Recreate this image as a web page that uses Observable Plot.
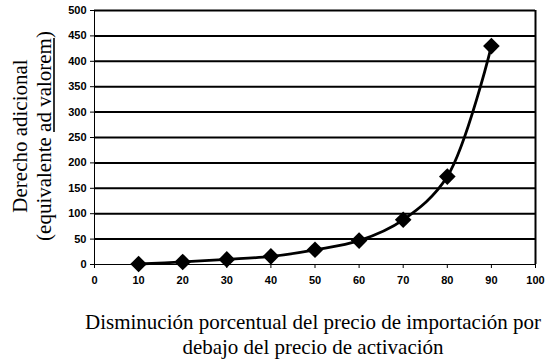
<!DOCTYPE html>
<html>
<head>
<meta charset="utf-8">
<script src="https://cdn.jsdelivr.net/npm/d3@7"></script>
<script src="https://cdn.jsdelivr.net/npm/@observablehq/plot@0.6"></script>
<style>
  html, body { margin: 0; padding: 0; background: #fff; }
  #chart svg { display: block; }
</style>
</head>
<body>
<div id="chart"></div>
<script>
const decreasePct = [10, 20, 30, 40, 50, 60, 70, 80, 90];
const extraDuty = [1, 5, 10, 16, 29, 47, 88, 173, 430];
const xTicks = [0, 10, 20, 30, 40, 50, 60, 70, 80, 90, 100];
const yTicks = [0, 50, 100, 150, 200, 250, 300, 350, 400, 450, 500];
const xTitle = ["Disminución porcentual del precio de importación por", "debajo del precio de activación"];
const yTitle = ["Derecho adicional", "(equivalente ", "ad valorem", ")"];

const data = decreasePct.map((x, i) => ({x, y: extraDuty[i]}));
const tickFont = "bold 11px 'Liberation Sans', Arial, sans-serif";

const plot = Plot.plot({
  width: 550,
  height: 362,
  marginLeft: 94,
  marginRight: 15,
  marginTop: 10,
  marginBottom: 98,
  style: {background: "#fff", color: "#000", overflow: "visible"},
  x: {domain: [0, 100], ticks: xTicks, label: null},
  y: {domain: [0, 500], ticks: yTicks, label: null},
  marks: [
    Plot.ruleY(yTicks.filter(d => d > 0), {stroke: "#000", strokeWidth: 2}),
    Plot.ruleX([100], {y1: 0, y2: 500, stroke: "#000", strokeWidth: 2}),
    Plot.ruleX([0], {y1: 0, y2: 500, stroke: "#000", strokeWidth: 1}),
    Plot.ruleY([0], {stroke: "#000", strokeWidth: 1}),
    Plot.axisX({ticks: xTicks, tickSize: 4, tickPadding: 8, label: null, fontSize: 11}),
    Plot.axisY({ticks: yTicks, tickSize: 4, tickPadding: 4, label: null, fontSize: 11}),
    Plot.line(data, {x: "x", y: "y", curve: "catmull-rom", stroke: "#000", strokeWidth: 2.8}),
    Plot.dot(data, {x: "x", y: "y", symbol: "diamond2", r: 7.5, fill: "#000", stroke: "none"})
  ]
});

document.getElementById("chart").appendChild(plot);

const svg = d3.select(plot);
svg.selectAll("g[aria-label='x-axis tick label'] text, g[aria-label='y-axis tick label'] text")
  .style("font", tickFont);

const serif = "'Liberation Serif', 'Times New Roman', serif";
const titleSize = 21;

// x title
const xt = svg.append("text")
  .attr("text-anchor", "middle")
  .attr("font-family", serif)
  .attr("font-size", titleSize)
  .attr("fill", "#000");
xt.append("tspan").attr("x", 313).attr("y", 329).text(xTitle[0]);
xt.append("tspan").attr("x", 313).attr("y", 354).text(xTitle[1]);

// y title (rotated); widths measured with a canvas using the same font
const ctx = document.createElement("canvas").getContext("2d");
ctx.font = `${titleSize}px ${serif}`;
const pieces = yTitle.slice(1);
const widths = pieces.map(t => ctx.measureText(t).width);
const total = widths.reduce((a, b) => a + b, 0);

const yg = svg.append("g")
  .attr("font-family", serif)
  .attr("font-size", titleSize)
  .attr("fill", "#000")
  .attr("transform", "translate(0,136) rotate(-90)");
yg.append("text").attr("text-anchor", "middle").attr("x", 0).attr("y", 27).text(yTitle[0]);

let cx = -total / 2;
const starts = [];
pieces.forEach((t, i) => {
  starts.push(cx);
  yg.append("text").attr("text-anchor", "start").attr("x", cx).attr("y", 51)
    .style("white-space", "pre").text(t);
  cx += widths[i];
});
yg.append("line")
  .attr("x1", starts[1]).attr("x2", starts[1] + widths[1])
  .attr("y1", 54).attr("y2", 54)
  .attr("stroke", "#000").attr("stroke-width", 1.6);
</script>
</body>
</html>
